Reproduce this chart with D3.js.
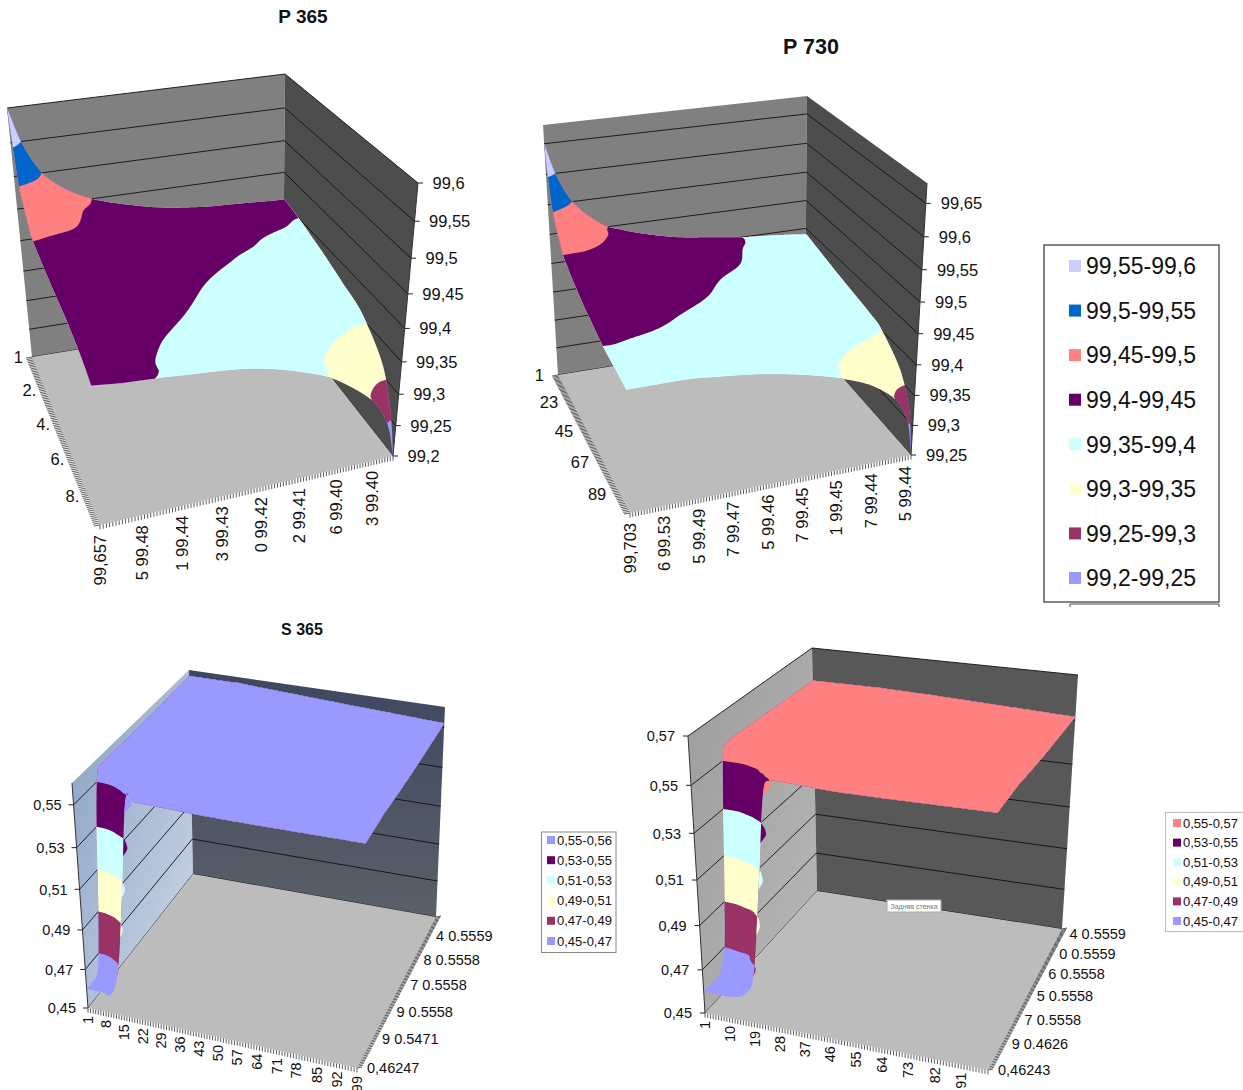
<!DOCTYPE html>
<html>
<head>
<meta charset="utf-8">
<script src="https://cdn.jsdelivr.net/npm/d3@7"></script>
<style>
  html, body { margin: 0; padding: 0; background: #fff; }
  svg { display: block; }
  text { font-family: "Liberation Sans", Arial, sans-serif; fill: #111; }
</style>
</head>
<body>
<div id="chart"></div>
<script>
// Band colours, low to high
const pColours = ["#9999FF", "#993366", "#FFFFCC", "#CCFFFF", "#660066", "#FF8080", "#0066CC", "#CCCCFF"]
const s365Colours = ["#9999FF", "#993366", "#FFFFCC", "#CCFFFF", "#660066", "#9999FF"]
const s730Colours = ["#9999FF", "#993366", "#FFFFCC", "#CCFFFF", "#660066", "#FF8080"]

// Legends, top to bottom
const pLegend = ["99,55-99,6", "99,5-99,55", "99,45-99,5", "99,4-99,45", "99,35-99,4", "99,3-99,35", "99,25-99,3", "99,2-99,25"]
const s365Legend = ["0,55-0,56", "0,53-0,55", "0,51-0,53", "0,49-0,51", "0,47-0,49", "0,45-0,47"]
const s730Legend = ["0,55-0,57", "0,53-0,55", "0,51-0,53", "0,49-0,51", "0,47-0,49", "0,45-0,47"]

// P 365
const p365XLabels = ["99,657", "5 99.48", "1 99.44", "3 99.43", "0 99.42", "2 99.41", "6 99.40", "3 99.40"]
const p365YLabels = ["1", "2.", "4.", "6.", "8."]
const p365ZTicks = [99.2, 99.25, 99.3, 99.35, 99.4, 99.45, 99.5, 99.55, 99.6]
const p365Thresholds = [99.25, 99.3, 99.35, 99.4, 99.45, 99.5, 99.55]
const p365XGrid = [0, .04, .1, .17, .28, .5, .68, .8, .93, .975, 1]
const p365YGrid = [0, .035, .07, .17, .22, .33, .5, .67, .87, .96, 1]
const p365Values = [
  [99.600, 99.548, 99.502, 99.475, 99.450, 99.424, 99.413, 99.410, 99.407, 99.406, 99.406],
  [99.548, 99.522, 99.490, 99.468, 99.447, 99.423, 99.412, 99.408, 99.406, 99.405, 99.405],
  [99.500, 99.490, 99.473, 99.460, 99.442, 99.421, 99.411, 99.406, 99.404, 99.403, 99.403],
  [99.460, 99.458, 99.455, 99.450, 99.437, 99.417, 99.407, 99.403, 99.400, 99.398, 99.397],
  [99.450, 99.449, 99.447, 99.444, 99.434, 99.414, 99.405, 99.401, 99.396, 99.394, 99.393],
  [99.443, 99.442, 99.441, 99.437, 99.427, 99.408, 99.400, 99.396, 99.388, 99.386, 99.385],
  [99.436, 99.435, 99.431, 99.426, 99.415, 99.400, 99.392, 99.385, 99.375, 99.372, 99.371],
  [99.431, 99.429, 99.424, 99.416, 99.405, 99.394, 99.382, 99.370, 99.358, 99.356, 99.356],
  [99.420, 99.418, 99.414, 99.407, 99.397, 99.389, 99.372, 99.349, 99.323, 99.312, 99.310],
  [99.412, 99.410, 99.406, 99.403, 99.397, 99.387, 99.368, 99.343, 99.296, 99.262, 99.250],
  [99.408, 99.406, 99.403, 99.401, 99.397, 99.387, 99.365, 99.340, 99.290, 99.250, 99.200]
]

// P 730
const p730XLabels = ["99,703", "6 99.53", "5 99.49", "7 99.47", "5 99.46", "7 99.45", "1 99.45", "7 99.44", "5 99.44"]
const p730YLabels = ["1", "23", "45", "67", "89"]
const p730ZTicks = [99.25, 99.3, 99.35, 99.4, 99.45, 99.5, 99.55, 99.6, 99.65]
const p730Thresholds = [99.3, 99.35, 99.4, 99.45, 99.5, 99.55, 99.6]
const p730XGrid = [0, .04, .095, .2, .29, .47, .635, .75, .86, .95, .985, 1]
const p730YGrid = [0, .025, .07, .17, .24, .42, .57, .69, .88, .97, 1]
const p730Values = [
  [99.650, 99.595, 99.550, 99.507, 99.490, 99.468, 99.457, 99.450, 99.446, 99.442, 99.440, 99.440],
  [99.600, 99.570, 99.538, 99.504, 99.488, 99.467, 99.456, 99.450, 99.445, 99.441, 99.439, 99.439],
  [99.549, 99.535, 99.522, 99.501, 99.485, 99.465, 99.455, 99.449, 99.444, 99.438, 99.436, 99.436],
  [99.503, 99.502, 99.500, 99.490, 99.478, 99.459, 99.453, 99.445, 99.438, 99.433, 99.431, 99.430],
  [99.490, 99.489, 99.486, 99.478, 99.471, 99.456, 99.450, 99.441, 99.434, 99.429, 99.427, 99.426],
  [99.469, 99.468, 99.467, 99.463, 99.459, 99.450, 99.441, 99.433, 99.426, 99.421, 99.418, 99.417],
  [99.458, 99.458, 99.457, 99.454, 99.450, 99.442, 99.434, 99.426, 99.419, 99.413, 99.411, 99.410],
  [99.450, 99.450, 99.449, 99.447, 99.444, 99.437, 99.429, 99.421, 99.413, 99.405, 99.402, 99.401],
  [99.444, 99.444, 99.444, 99.442, 99.439, 99.431, 99.419, 99.404, 99.385, 99.368, 99.364, 99.362],
  [99.441, 99.441, 99.441, 99.440, 99.438, 99.429, 99.414, 99.400, 99.378, 99.345, 99.320, 99.310],
  [99.440, 99.440, 99.440, 99.440, 99.437, 99.428, 99.413, 99.398, 99.376, 99.340, 99.300, 99.250]
]

// S 365
const s365XLabels = ["1", "8", "15", "22", "29", "36", "43", "50", "57", "64", "71", "78", "85", "92", "99"]
const s365YLabels = ["0,46247", "9 0.5471", "9 0.5558", "7 0.5558", "8 0.5558", "4 0.5559"]
const s365ZTicks = [.45, .47, .49, .51, .53, .55]
const s365ZLabels = ["0,45", "0,47", "0,49", "0,51", "0,53", "0,55"]
const s365Thresholds = [.47, .49, .51, .53, .55]
const s365XGrid = [0, .03, .06, .09, .12, .15, .18, .21, .5, 1]
const s365YGrid = [0, .4, .75, .79, .82, .85, .88, .91, .94, .97, 1]
const s365Values = [
  [.557, .557, .557, .557, .557, .557, .557, .557, .555, .552],
  [.556, .556, .556, .556, .556, .556, .556, .556, .555, .553],
  [.556, .556, .556, .556, .556, .556, .556, .556, .555, .555],
  [.554, .555, .556, .556, .556, .556, .556, .556, .555, .555],
  [.535, .537, .545, .554, .556, .556, .556, .556, .555, .555],
  [.495, .500, .516, .537, .553, .556, .556, .556, .555, .555],
  [.467, .469, .480, .503, .530, .553, .556, .556, .555, .555],
  [.460, .460, .463, .476, .508, .540, .556, .556, .555, .555],
  [.460, .460, .460, .465, .488, .525, .556, .556, .555, .555],
  [.460, .460, .460, .462, .478, .515, .556, .556, .555, .555],
  [.460, .460, .460, .460, .472, .510, .556, .556, .555, .555]
]

// S 730
const s730XLabels = ["1", "10", "19", "28", "37", "46", "55", "64", "73", "82", "91"]
const s730YLabels = ["0,46243", "9 0.4626", "7 0.5558", "5 0.5558", "6 0.5558", "0 0.5559", "4 0.5559"]
const s730ZTicks = [.45, .47, .49, .51, .53, .55, .57]
const s730ZLabels = ["0,45", "0,47", "0,49", "0,51", "0,53", "0,55", "0,57"]
const s730Thresholds = [.47, .49, .51, .53, .55]
const s730XGrid = [0, .05, .1, .15, .18, .21, .235, .26, .5, 1]
const s730YGrid = [0, .4, .71, .74, .77, .8, .83, .87, .93, 1]
const s730Values = [
  [.555, .555, .555, .555, .555, .555, .555, .555, .554, .5515],
  [.556, .556, .556, .556, .556, .556, .556, .556, .555, .553],
  [.556, .556, .556, .556, .556, .556, .556, .556, .555, .555],
  [.550, .552, .556, .556, .556, .556, .556, .556, .555, .555],
  [.510, .517, .543, .556, .556, .556, .556, .556, .555, .555],
  [.473, .483, .510, .550, .556, .556, .556, .556, .555, .555],
  [.464, .465, .473, .520, .552, .556, .556, .556, .555, .555],
  [.460, .460, .464, .487, .523, .552, .556, .556, .555, .555],
  [.460, .460, .460, .465, .490, .527, .554, .556, .555, .555],
  [.460, .460, .460, .463, .473, .513, .550, .556, .555, .555]
]

const WIDTH = 1243
const HEIGHT = 1090

let svg = d3.select("#chart").append("svg")
  .attr("width", WIDTH)
  .attr("height", HEIGHT)
let defs = svg.append("defs")

// perspective squeeze of a 0..1 fraction
const warp = (t, c) => t / (t + (1 - t) * c)
const lerp = (a, b, t) => a + (b - a) * t
const catmull = (a, b, c, d, t) => 0.5 * (2 * b + (c - a) * t + (2 * a - 5 * b + 4 * c - d) * t * t + (3 * b - a - 3 * c + d) * t * t * t)

// smooth monotone map from grid index to grid position
function gridMap(grid) {
  let n = grid.length
  let sec = d3.range(n - 1).map(i => grid[i + 1] - grid[i])
  let m = grid.map((g, i) => {
    if (i == 0) return sec[0]
    if (i == n - 1) return sec[n - 2]
    return 2 * sec[i - 1] * sec[i] / (sec[i - 1] + sec[i])
  })
  return u => {
    let i = Math.min(Math.floor(u), n - 2)
    let t = u - i, t2 = t * t, t3 = t2 * t
    return (2 * t3 - 3 * t2 + 1) * grid[i] + (t3 - 2 * t2 + t) * m[i] + (3 * t2 - 2 * t3) * grid[i + 1] + (t3 - t2) * m[i + 1]
  }
}

// table with one extra row and column on each side, for the cubic lookup
function padTable(vals) {
  let rows = vals.map(r => [2 * r[0] - r[1], ...r, 2 * r[r.length - 1] - r[r.length - 2]])
  let last = rows.length - 1
  let before = rows[0].map((v, i) => 2 * v - rows[1][i])
  let after = rows[last].map((v, i) => 2 * v - rows[last - 1][i])
  return [before, ...rows, after]
}

function makeGradient(id, from, to, x2, y2) {
  let g = defs.append("linearGradient").attr("id", id)
    .attr("x1", 0).attr("y1", 0).attr("x2", x2).attr("y2", y2)
  g.append("stop").attr("offset", 0).attr("stop-color", from)
  g.append("stop").attr("offset", 1).attr("stop-color", to)
}
makeGradient("s365Left", "#86a0c4", "#d0d9e8", 1, 1)
makeGradient("s365Back", "#3c4860", "#5b6068", 0, 1)
makeGradient("s730Left", "#9c9c9c", "#b8b8b8", 1, 1)

function drawChart(c) {
  let g = svg.append("g")

  // box corners: floor and top, x along the value axis, y along the series axis
  let zScale = d3.scaleLinear().domain(c.zDomain).range([0, 1])
  function projectW(x, y, w) {
    let fx = lerp(lerp(c.floor[0][0], c.floor[1][0], x), lerp(c.floor[2][0], c.floor[3][0], x), y)
    let fy = lerp(lerp(c.floor[0][1], c.floor[1][1], x), lerp(c.floor[2][1], c.floor[3][1], x), y)
    let tx = lerp(lerp(c.top[0][0], c.top[1][0], x), lerp(c.top[2][0], c.top[3][0], x), y)
    let ty = lerp(lerp(c.top[0][1], c.top[1][1], x), lerp(c.top[2][1], c.top[3][1], x), y)
    return [lerp(fx, tx, w), lerp(fy, ty, w)]
  }
  const project = (x, y, z) => projectW(x, y, warp(zScale(z), c.zWarp))
  const line = d3.line()

  // walls
  c.walls.forEach(wall => {
    let pts = [projectW(wall[0][0], wall[0][1], 0), projectW(wall[1][0], wall[1][1], 0),
               projectW(wall[1][0], wall[1][1], 1), projectW(wall[0][0], wall[0][1], 1)]
    g.append("path").attr("d", line(pts) + "Z").attr("fill", wall[2])
  })

  // gridlines across the two walls
  g.selectAll(".grid").data(c.zTicks).enter().append("path")
    .attr("d", z => line(c.gridPath.map(p => project(p[0], p[1], z))))
    .attr("fill", "none").attr("stroke", "#111").attr("stroke-width", 0.9)

  // floor
  let floorPts = [[0, 0], [1, 0], [1, 1], [0, 1]].map(p => projectW(p[0], p[1], 0))
  g.append("path").attr("d", line(floorPts) + "Z").attr("fill", c.floorFill)

  // surface: sample the value table on a fine raster in index space and contour it
  let nx = c.xGrid.length, ny = c.yGrid.length
  let table = padTable(c.values)
  function valueAt(u, v) {
    let i = Math.min(Math.floor(u), nx - 2), j = Math.min(Math.floor(v), ny - 2)
    let tu = u - i, tv = v - j
    let col = [0, 1, 2, 3].map(k => {
      let r = table[j + k]
      return catmull(r[i], r[i + 1], r[i + 2], r[i + 3], tu)
    })
    return catmull(col[0], col[1], col[2], col[3], tv)
  }
  const N = 440
  let raster = new Float64Array(N * N)
  for (let j = 0; j < N; j++)
    for (let i = 0; i < N; i++)
      raster[j * N + i] = valueAt(i / (N - 1) * (nx - 1), j / (N - 1) * (ny - 1))

  let thresholds = [d3.min(c.values.flat()) - 1].concat(c.thresholds)
  let bands = d3.contours().size([N, N]).thresholds(thresholds)(raster)
  let toU = d3.scaleLinear().domain([0.5, N - 0.5]).range([0, nx - 1]).clamp(true)
  let toV = d3.scaleLinear().domain([0.5, N - 0.5]).range([0, ny - 1]).clamp(true)
  let xAt = gridMap(c.xGrid), yAt = gridMap(c.yGrid)
  bands.forEach((band, bi) => {
    let d = ""
    band.coordinates.forEach(poly => poly.forEach(ring => {
      let pts = ring.map(p => {
        let u = toU(p[0]), v = toV(p[1])
        return project(xAt(u), yAt(v), valueAt(u, v))
      })
      d += line(pts) + "Z"
    }))
    g.append("path").attr("d", d).attr("fill", c.colours[bi]).attr("fill-rule", "evenodd")
  })

  // value axis
  let zBase = c.zEdge
  g.append("path")
    .attr("d", line([projectW(zBase[0], zBase[1], 0), projectW(zBase[0], zBase[1], 1)]))
    .attr("stroke", "#333").attr("fill", "none")
  c.zTicks.forEach((z, i) => {
    let p = project(zBase[0], zBase[1], z)
    g.append("path").attr("d", line([p, [p[0] + c.zTick, p[1]]])).attr("stroke", "#222")
    g.append("text").attr("x", p[0] + c.zLabelDx).attr("y", p[1]).attr("dy", "0.36em")
      .attr("text-anchor", c.zAnchor).attr("font-size", c.fontSize)
      .text(c.zLabels[i])
  })

  // hatch ticks and labels along the two floor edges
  let xEdge = t => projectW(t, 1, 0)
  g.selectAll(".xtick").data(d3.range(c.xTickCount)).enter().append("path")
    .attr("d", i => {
      let p = xEdge(warp(i / (c.xTickCount - 1), c.xLabelWarp))
      return line([p, [p[0], p[1] + 4.5]])
    }).attr("stroke", "#333").attr("stroke-width", 0.8)
  c.xLabels.forEach((s, i) => {
    let p = xEdge(warp(i * c.xLabelStep, c.xLabelWarp))
    g.append("text")
      .attr("transform", `translate(${p[0]},${p[1] + c.xLabelDy}) rotate(-90)`)
      .attr("dy", "0.36em").attr("text-anchor", "end").attr("font-size", c.fontSize)
      .text(s)
  })

  let yEdge = t => projectW(c.yEdgeX, c.yEdgeX ? 1 - t : t, 0)
  g.selectAll(".ytick").data(d3.range(c.yTickCount)).enter().append("path")
    .attr("d", i => {
      let p = yEdge(warp(i / (c.yTickCount - 1), c.yLabelWarp))
      return line([p, [p[0] + c.yTick[0], p[1] + c.yTick[1]]])
    }).attr("stroke", "#333").attr("stroke-width", 0.8)
  c.yLabels.forEach((s, i) => {
    let p = yEdge(warp(i * c.yLabelStep, c.yLabelWarp))
    g.append("text").attr("x", p[0] + c.yLabelDx).attr("y", p[1]).attr("dy", "0.36em")
      .attr("text-anchor", c.yAnchor).attr("font-size", c.fontSize)
      .text(s)
  })

  // title
  if (c.title)
    g.append("text").attr("x", c.title[1]).attr("y", c.title[2]).attr("dy", "0.36em")
      .attr("text-anchor", "middle").attr("font-size", c.title[3]).attr("font-weight", "bold")
      .text(c.title[0])
}

function drawLegend(items, colours, box) {
  let g = svg.append("g")
  g.append("rect").attr("x", box.x).attr("y", box.y).attr("width", box.w).attr("height", box.h)
    .attr("fill", "#fff").attr("stroke", box.stroke).attr("stroke-width", box.sw)
  let rowY = d3.scalePoint().domain(items).range([box.first, box.last])
  g.selectAll("rect.key").data(items).enter().append("rect").attr("class", "key")
    .attr("x", box.keyX).attr("y", d => rowY(d) - box.key / 2)
    .attr("width", box.key).attr("height", box.key)
    .attr("fill", (d, i) => colours[i])
  g.selectAll("text").data(items).enter().append("text")
    .attr("x", box.textX).attr("y", d => rowY(d)).attr("dy", "0.36em")
    .attr("font-size", box.font).text(d => d)
}

drawChart({
  title: ["P 365", 303, 16, 19],
  zDomain: [99.2, 99.6], zWarp: 1.14,
  floor: [[32, 357], [283, 316], [100, 525], [393, 456]],
  top: [[7, 108], [285, 74], [82, 239], [418, 183]],
  walls: [[[0, 0], [1, 0], "#808080"], [[1, 0], [1, 1], "#4d4d4d"]],
  gridPath: [[0, 0], [1, 0], [1, 1]], floorFill: "#bcbcbc",
  xGrid: p365XGrid, yGrid: p365YGrid, values: p365Values,
  thresholds: p365Thresholds, colours: pColours,
  zTicks: p365ZTicks, zLabels: p365ZTicks.map(d => String(d).replace(".", ",")),
  zEdge: [1, 1], zTick: 5, zLabelDx: 14.5, zAnchor: "start", fontSize: 16.5,
  xLabels: p365XLabels, xLabelStep: .132, xLabelWarp: .92, xLabelDy: 10, xTickCount: 100,
  yLabels: p365YLabels, yLabelStep: .21, yLabelWarp: 1.1, yLabelDx: -9, yAnchor: "end",
  yEdgeX: 0, yTickCount: 100, yTick: [-6, 1]
})

drawChart({
  title: ["P 730", 811, 46, 21.5],
  zDomain: [99.25, 99.68], zWarp: 1.08,
  floor: [[558, 375], [805, 335], [630, 513], [911, 455]],
  top: [[543, 125], [807, 96], [621, 222], [927, 183]],
  walls: [[[0, 0], [1, 0], "#808080"], [[1, 0], [1, 1], "#4d4d4d"]],
  gridPath: [[0, 0], [1, 0], [1, 1]], floorFill: "#bcbcbc",
  xGrid: p730XGrid, yGrid: p730YGrid, values: p730Values,
  thresholds: p730Thresholds, colours: pColours,
  zTicks: p730ZTicks, zLabels: p730ZTicks.map(d => String(d).replace(".", ",")),
  zEdge: [1, 1], zTick: 5, zLabelDx: 15, zAnchor: "start", fontSize: 16.5,
  xLabels: p730XLabels, xLabelStep: .1225, xLabelWarp: 1, xLabelDy: 10, xTickCount: 100,
  yLabels: p730YLabels, yLabelStep: .22, yLabelWarp: 1.15, yLabelDx: -14, yAnchor: "end",
  yEdgeX: 0, yTickCount: 100, yTick: [-6, 1]
})

drawChart({
  title: ["S 365", 302, 629, 16],
  zDomain: [.45, .56], zWarp: 1.075,
  floor: [[193, 874], [436, 917], [88, 1008], [357, 1068]],
  top: [[189, 670], [445, 707], [72, 783], [366, 832]],
  walls: [[[0, 0], [0, 1], "url(#s365Left)"], [[0, 0], [1, 0], "url(#s365Back)"]],
  gridPath: [[0, 1], [0, 0], [1, 0]], floorFill: "#bcbcbc",
  xGrid: s365XGrid, yGrid: s365YGrid, values: s365Values,
  thresholds: s365Thresholds, colours: s365Colours,
  zTicks: s365ZTicks, zLabels: s365ZLabels,
  zEdge: [0, 1], zTick: -5, zLabelDx: -12, zAnchor: "end", fontSize: 14.5,
  xLabels: s365XLabels, xLabelStep: 1 / 14, xLabelWarp: 1.07, xLabelDy: 8, xTickCount: 99,
  yLabels: s365YLabels, yLabelStep: .172, yLabelWarp: .88, yLabelDx: 10, yAnchor: "start",
  yEdgeX: 1, yTickCount: 99, yTick: [5, -1]
})

drawChart({
  title: null,
  zDomain: [.45, .57], zWarp: 1.083,
  floor: [[817, 891], [1062, 929], [705, 1013], [988, 1070]],
  top: [[812, 648], [1078, 675], [688, 736], [999, 773]],
  walls: [[[0, 0], [0, 1], "url(#s730Left)"], [[0, 0], [1, 0], "#585858"]],
  gridPath: [[0, 1], [0, 0], [1, 0]], floorFill: "#bcbcbc",
  xGrid: s730XGrid, yGrid: s730YGrid, values: s730Values,
  thresholds: s730Thresholds, colours: s730Colours,
  zTicks: s730ZTicks, zLabels: s730ZLabels,
  zEdge: [0, 1], zTick: -5, zLabelDx: -13, zAnchor: "end", fontSize: 14.5,
  xLabels: s730XLabels, xLabelStep: 1 / 11, xLabelWarp: 1.05, xLabelDy: 8, xTickCount: 100,
  yLabels: s730YLabels, yLabelStep: .16, yLabelWarp: .84, yLabelDx: 10, yAnchor: "start",
  yEdgeX: 1, yTickCount: 100, yTick: [5, -1]
})

drawLegend(pLegend, pColours.slice().reverse(), {x: 1044, y: 245, w: 175, h: 357, stroke: "#333", sw: 1.2,
  first: 266, last: 578, keyX: 1069, key: 12, textX: 1086, font: 23})
drawLegend(s365Legend, s365Colours.slice().reverse(), {x: 541.5, y: 832, w: 74.5, h: 120.5, stroke: "#888", sw: 1,
  first: 840, last: 941, keyX: 547, key: 8, textX: 557, font: 13})
drawLegend(s730Legend, s730Colours.slice().reverse(), {x: 1165.5, y: 812.5, w: 80, h: 119, stroke: "#bbb", sw: 1,
  first: 823, last: 921, keyX: 1173, key: 8, textX: 1183, font: 13})

// stray rule under the main legend
svg.append("path").attr("d", "M1070,607V604H1219V607").attr("fill", "none").attr("stroke", "#444")

// tooltip left in the screenshot
let tip = svg.append("g")
tip.append("rect").attr("x", 887).attr("y", 900).attr("width", 54).attr("height", 12)
  .attr("fill", "#fff").attr("stroke", "#aaa")
tip.append("text").attr("x", 914).attr("y", 906).attr("dy", "0.36em").attr("text-anchor", "middle")
  .attr("font-size", 7).style("fill", "#777").text("Задняя стенка")
</script>
</body>
</html>
